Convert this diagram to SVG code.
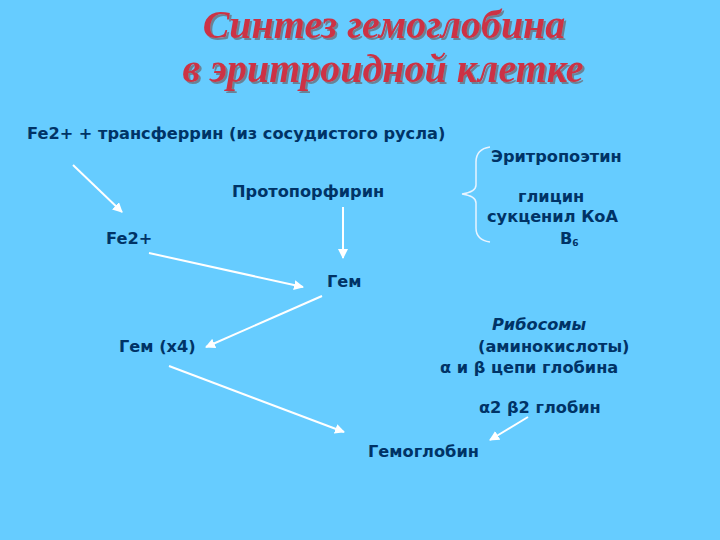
<svg xmlns="http://www.w3.org/2000/svg" width="720" height="540" viewBox="0 0 720 540">
<defs>
<style>
.t{font-family:"DejaVu Sans","Verdana",sans-serif;font-weight:bold;font-size:16.2px;fill:#003366}
.ti{font-family:"Liberation Serif","Times New Roman",serif;font-weight:bold;font-style:italic;font-size:40px;fill:#CC3344;text-anchor:middle;filter:url(#shadow)}
.c{stroke:#ffffff;stroke-width:2;fill:none;marker-end:url(#ah)}
</style>
<filter id="shadow" x="-5%" y="-20%" width="110%" height="140%">
<feDropShadow dx="2" dy="2" stdDeviation="0.6" flood-color="#6a7a8a" flood-opacity="0.9"/>
</filter>
<marker id="ah" viewBox="0 0 10 10" refX="9" refY="5" markerWidth="5" markerHeight="5" orient="auto">
<path d="M0,0 L10,5 L0,10 Z" fill="#ffffff"/>
</marker>
</defs>
<rect width="720" height="540" fill="#66CCFF"/>
<g id="title">
<text class="ti" x="384" y="38">Синтез гемоглобина</text>
<text class="ti" x="383" y="82">в эритроидной клетке</text>
</g>
<g id="connectors">
<line class="c" x1="73" y1="165" x2="122" y2="212"/>
<line class="c" x1="343" y1="207" x2="343" y2="258"/>
<line class="c" x1="149" y1="253" x2="303" y2="287"/>
<line class="c" x1="322" y1="296" x2="206" y2="347"/>
<line class="c" x1="169" y1="366" x2="344" y2="432"/>
<line class="c" x1="528" y1="417" x2="490" y2="440"/>
<path d="M490,147 Q476,149 476,162 L476,185 Q476,192 462,194 Q476,196 476,203 L476,228 Q476,240 490,242" stroke="#e8f4ff" stroke-width="1.5" fill="none"/>
</g>
<g id="n-fe-transferrin"><text class="t" x="27" y="139">Fe2+ + трансферрин (из сосудистого русла)</text></g>
<g id="n-erythropoietin"><text class="t" x="491" y="162">Эритропоэтин</text></g>
<g id="n-protoporphyrin"><text class="t" x="232" y="197">Протопорфирин</text></g>
<g id="n-glycine"><text class="t" x="518" y="202">глицин</text></g>
<g id="n-succinyl"><text class="t" x="487" y="222">сукценил КоА</text></g>
<g id="n-b6"><text class="t" x="560" y="244">В<tspan font-size="9" dy="2">6</tspan></text></g>
<g id="n-fe"><text class="t" x="106" y="244">Fe2+</text></g>
<g id="n-heme"><text class="t" x="327" y="287">Гем</text></g>
<g id="n-ribosomes"><text class="t" x="492" y="330" font-style="italic">Рибосомы</text></g>
<g id="n-amino"><text class="t" x="478" y="352">(аминокислоты)</text></g>
<g id="n-chains"><text class="t" x="440" y="373">α и β цепи глобина</text></g>
<g id="n-heme4"><text class="t" x="119" y="352">Гем (x4)</text></g>
<g id="n-globin"><text class="t" x="479" y="413">α2 β2 глобин</text></g>
<g id="n-hemoglobin"><text class="t" x="368" y="457">Гемоглобин</text></g>
</svg>
